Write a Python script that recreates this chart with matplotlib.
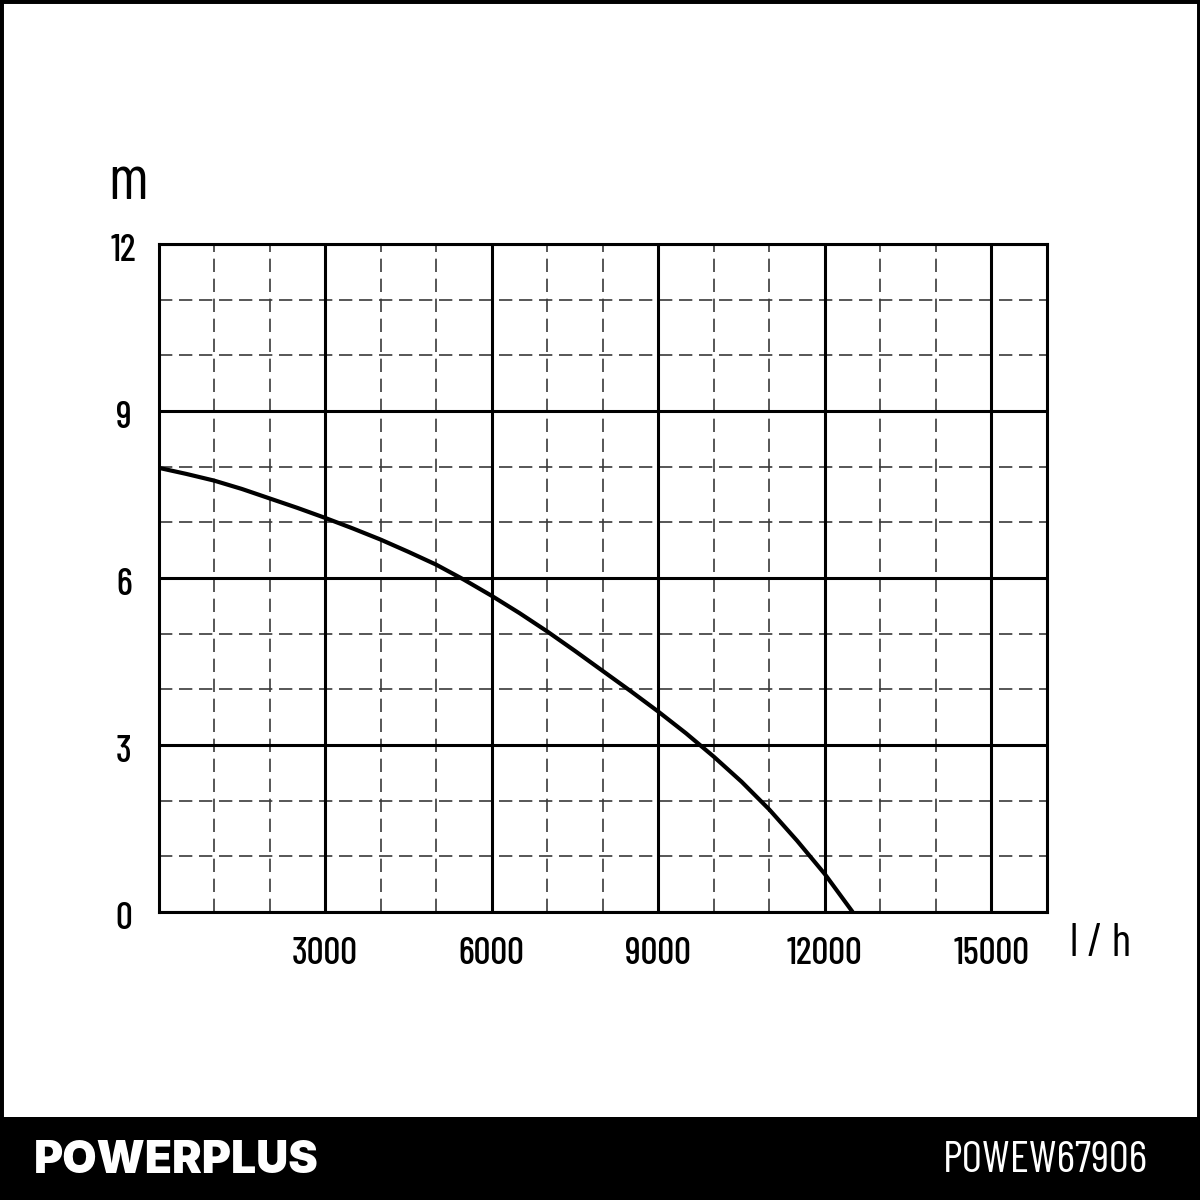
import matplotlib
matplotlib.use("Agg")
import matplotlib.pyplot as plt
from matplotlib.patches import Rectangle
from matplotlib import font_manager as fm
from matplotlib.transforms import ScaledTranslation

# Data
flow_lh = [0, 500, 1000, 1500, 2000, 2500, 3000, 3500, 4000, 4500, 5000, 5500, 6000,
           6500, 7000, 7500, 8000, 8500, 9000, 9500, 10000, 10500, 11000, 11500, 12000, 12500]
head_m = [7.98, 7.87, 7.75, 7.60, 7.43, 7.26, 7.08, 6.89, 6.69, 6.47, 6.24, 5.97, 5.68,
          5.37, 5.04, 4.69, 4.33, 3.97, 3.60, 3.21, 2.79, 2.34, 1.84, 1.28, 0.68, 0.0]

x_major = [3000, 6000, 9000, 12000, 15000]
x_labels = ["3000", "6000", "9000", "12000", "15000"]
y_major = [0, 3, 6, 9, 12]
y_labels = ["0", "3", "6", "9", "12"]
x_minor = [1000, 2000, 4000, 5000, 7000, 8000, 10000, 11000, 13000, 14000]
y_minor = [1, 2, 4, 5, 7, 8, 10, 11]

brand = "POWERPLUS"
model = "POWEW67906"
y_unit = "m"
x_unit = "l / h"

names = set(f.name for f in fm.fontManager.ttflist)
NUMF = "Barlow Condensed" if "Barlow Condensed" in names else "DejaVu Sans"
BRANDF = "Inter" if "Inter" in names else NUMF
plt.rcParams['font.family'] = [NUMF, "DejaVu Sans"]

fig = plt.figure(figsize=(12, 12), dpi=100)
fig.patch.set_facecolor("white")

# outer frame and bottom band
fig.patches.append(Rectangle((0, 0), 1, 1, transform=fig.transFigure, fill=False,
                             edgecolor="black", linewidth=5, zorder=0))
fig.patches.append(Rectangle((0, 0), 1, 83 / 1200, transform=fig.transFigure,
                             facecolor="black", edgecolor="none", zorder=0))

ax = fig.add_axes([158.5 / 1200, 1 - 912 / 1200, (1047 - 158.5) / 1200, (912 - 244) / 1200])
ax.set_xlim(0, 16000)
ax.set_ylim(0, 12)

# grid
for xv in x_minor:
    ax.axvline(xv, color="#3a3a3a", lw=1.2, dashes=(8, 4), zorder=1)
for yv in y_minor:
    ax.axhline(yv, color="#3a3a3a", lw=1.2, dashes=(8, 4), zorder=1)
for xv in x_major:
    ax.axvline(xv, color="black", lw=2.2, zorder=2)
for yv in y_major:
    ax.axhline(yv, color="black", lw=2.2, zorder=2)

for s in ax.spines.values():
    s.set_linewidth(2.2)
    s.set_color("black")

ax.plot(flow_lh, head_m, color="black", lw=3.0, solid_joinstyle="round",
        solid_capstyle="butt", zorder=3)

ax.set_xticks(x_major)
ax.set_xticklabels(x_labels, fontsize=27, fontweight="medium")
ax.set_yticks(y_major)
ax.set_yticklabels(y_labels, fontsize=27, fontweight="medium", ha="center",
                   va="center")
ax.tick_params(axis="x", length=0, pad=18)
ax.tick_params(axis="y", length=0, pad=25)
shift = ScaledTranslation(0, -5 / 72, fig.dpi_scale_trans)
for lab in ax.get_yticklabels():
    lab.set_transform(lab.get_transform() + shift)

fig.text(128 / 1200, 1 - 183 / 1200, y_unit, fontsize=44, fontweight="normal",
         ha="center", va="center")
fig.text(1101 / 1200, 1 - 944 / 1200, x_unit, fontsize=33, fontweight="normal",
         ha="center", va="center")

fig.text(34 / 1200, 1 - 1161 / 1200, brand, fontsize=32, fontweight=900, color="white",
         family=[BRANDF, "DejaVu Sans"], ha="left", va="center")
fig.text(1148 / 1200, 1 - 1161 / 1200, model, fontsize=32, fontweight="normal", color="white",
         ha="right", va="center")

fig.savefig("out.png", dpi=100, facecolor="white")
